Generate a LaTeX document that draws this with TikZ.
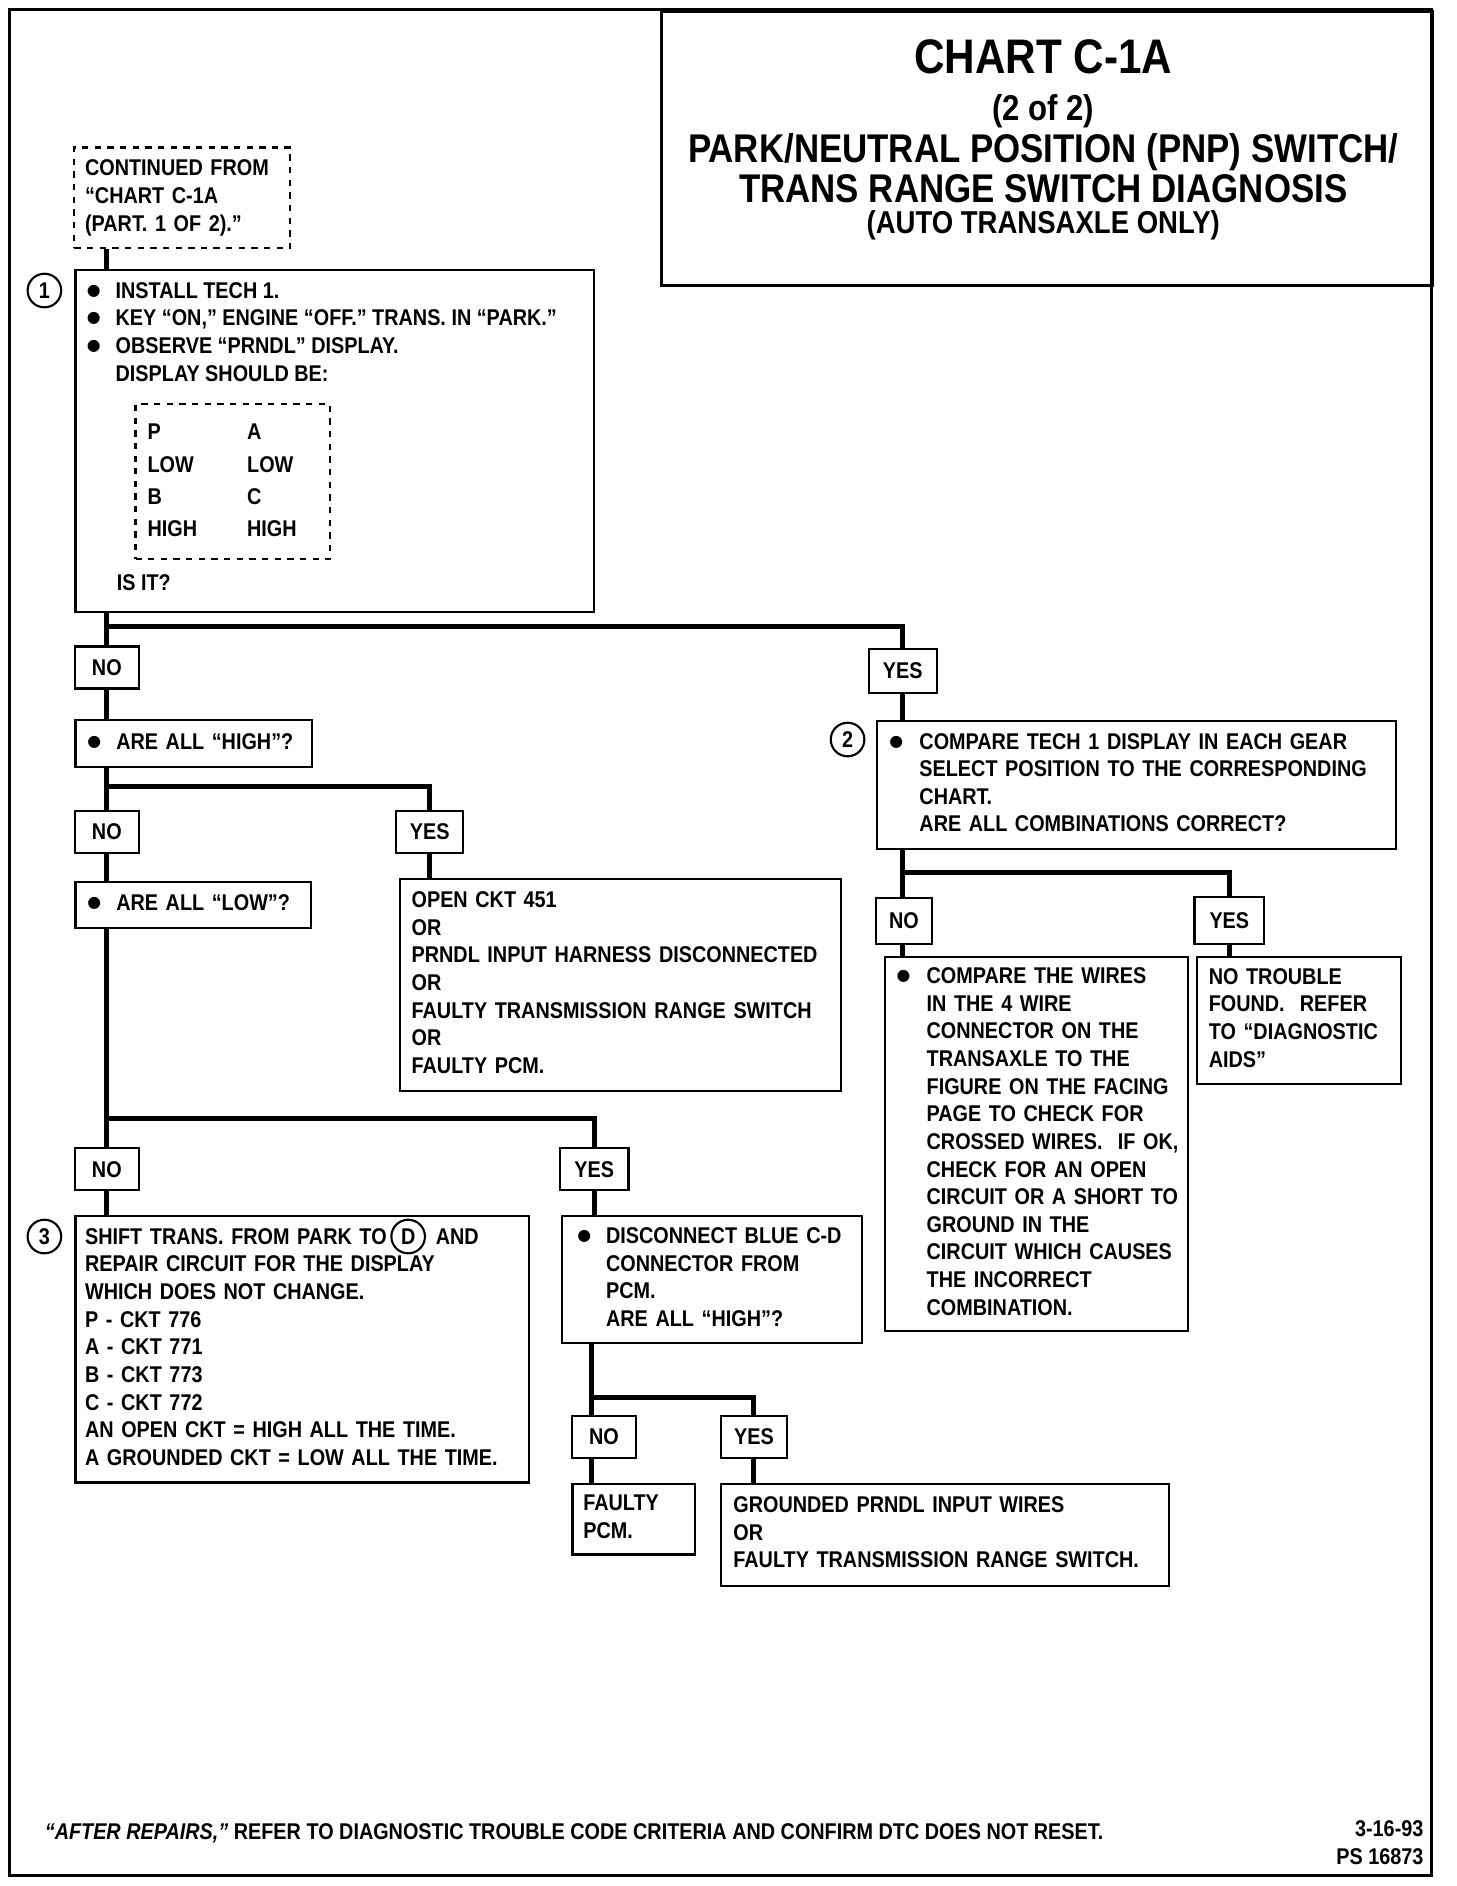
\documentclass[tikz,border=0pt]{standalone}
\usepackage{fontspec}
\setmainfont{Liberation Sans}[FakeStretch=0.87]
\newfontfamily\dotfont{DejaVu Sans}
\newcommand{\bodysize}{\fontsize{10.8}{13.1}\selectfont\bfseries}
\newcommand{\bl}{\raisebox{0.25ex}{\dotfont\fontsize{7.5}{9}\selectfont ●}}
\tikzset{
  frame/.style={line width=1.4pt},
  box/.style={draw, line width=1pt, anchor=north west, align=left, inner xsep=0.2cm, inner ysep=0pt, font=\bodysize},
  tag/.style={draw, line width=1pt, minimum width=1.06cm, minimum height=0.7cm, inner sep=0pt, font=\bodysize},
  num/.style={draw, circle, line width=1pt, minimum size=0.56cm, inner sep=0pt, font=\bodysize},
  txt/.style={anchor=north west, align=left, inner sep=0pt, font=\bodysize},
  wire/.style={line width=2.4pt},
}

\begin{document}
\begin{tikzpicture}[x=0.02cm,y=-0.02cm]
\useasboundingbox (0,0) rectangle (1213,1571);
\draw[frame] (8,8) rectangle (1192,1562);

% title block
\node[draw, frame, anchor=north west, minimum width=12.84cm, minimum height=4.58cm] (title) at (550,8) {};
\node[font=\fontsize{23}{27}\selectfont\bfseries] (t1) at (869,47) {CHART C-1A};
\node[font=\fontsize{17}{20}\selectfont\bfseries] (t2) at (869,93) {(2 of 2)};
\node[font=\fontsize{19}{22}\selectfont\bfseries, inner sep=0pt] (t3) at (869,127) {PARK/NEUTRAL POSITION (PNP) SWITCH/};
\node[font=\fontsize{19}{22}\selectfont\bfseries, inner sep=0pt] (t4) at (869,157) {TRANS RANGE SWITCH DIAGNOSIS};
\node[font=\fontsize{15}{18}\selectfont\bfseries, inner sep=0pt] (t5) at (869,188) {(AUTO TRANSAXLE ONLY)};

% step 1
\node[box, dashed, inner xsep=0.18cm, text width=3.24cm, minimum height=1.68cm] (cont) at (61,122)
  {\begin{tabular}{@{}l@{}}CONTINUED FROM\\“CHART C-1A\\(PART. 1 OF 2).”\end{tabular}};
\node[box, minimum width=8.64cm, minimum height=5.7cm] (b1) at (62,224) {};
\node[num] (c1) at (37,242) {1};
\node[txt] (b1a) at (72,232) {\begin{tabular}{@{}p{0.48cm}@{}l@{}}
  \bl & INSTALL TECH 1.\\
  \bl & KEY “ON,” ENGINE “OFF.” TRANS. IN “PARK.”\\
  \bl & OBSERVE “PRNDL” DISPLAY.\\
      & DISPLAY SHOULD BE:\end{tabular}};
\node[box, dashed, text width=2.84cm, minimum height=2.58cm] (tab) at (112,336)
  {\renewcommand{\arraystretch}{1.17}\begin{tabular}{@{}p{1.66cm}@{}l@{}}
  P & A\\ LOW & LOW\\ B & C\\ HIGH & HIGH\end{tabular}};
\node[txt, anchor=west] (isit) at (97,485) {IS IT?};

% first split
\coordinate (s1) at (89,522);
\node[tag] (no1) at (89,556) {NO};
\node[tag, minimum width=1.14cm, minimum height=0.74cm] (yes1) at (752,559) {YES};
\node[box, text width=3.54cm, minimum height=0.78cm] (q2) at (62,599)
  {\begin{tabular}{@{}p{0.48cm}@{}l@{}}\bl & ARE ALL “HIGH”?\end{tabular}};
\node[box, text width=8.24cm, minimum height=2.12cm] (b2) at (730,600) {\begin{tabular}{@{}p{0.5cm}@{}l@{}}
  \bl & COMPARE TECH 1 DISPLAY IN EACH GEAR\\
      & SELECT POSITION TO THE CORRESPONDING\\
      & CHART.\\
      & ARE ALL COMBINATIONS CORRECT?\end{tabular}};
\node[num] (c2) at (706,616) {2};

% all high ?
\coordinate (s2) at (89,655);
\node[tag] (no2) at (89,693) {NO};
\node[tag, minimum width=1.12cm] (yes2) at (358,693) {YES};
\node[box, text width=3.52cm, minimum height=0.76cm] (q3) at (62,734)
  {\begin{tabular}{@{}p{0.48cm}@{}l@{}}\bl & ARE ALL “LOW”?\end{tabular}};
\node[box, text width=6.96cm, minimum height=3.54cm] (r1) at (332,731) {\begin{tabular}{@{}l@{}}
  OPEN CKT 451\\ OR\\ PRNDL INPUT HARNESS DISCONNECTED\\ OR\\
  FAULTY TRANSMISSION RANGE SWITCH\\ OR\\ FAULTY PCM.\end{tabular}};

% combinations correct ?
\coordinate (s5) at (752,727);
\node[tag, minimum width=0.92cm, minimum height=0.76cm] (no5) at (753,767) {NO};
\node[tag, minimum width=1.16cm, minimum height=0.78cm] (yes5) at (1024,767) {YES};
\node[box, text width=4.66cm, minimum height=6.24cm] (r6) at (736,796) {\begin{tabular}{@{}p{0.5cm}@{}l@{}}
  \bl & COMPARE THE WIRES\\
      & IN THE 4 WIRE\\
      & CONNECTOR ON THE\\
      & TRANSAXLE TO THE\\
      & FIGURE ON THE FACING\\
      & PAGE TO CHECK FOR\\
      & CROSSED WIRES.\ \ IF OK,\\
      & CHECK FOR AN OPEN\\
      & CIRCUIT OR A SHORT TO\\
      & GROUND IN THE\\
      & CIRCUIT WHICH CAUSES\\
      & THE INCORRECT\\
      & COMBINATION.\end{tabular}};
\node[box, text width=3.0cm, minimum height=2.12cm] (r7) at (996,796) {\begin{tabular}{@{}l@{}}
  NO TROUBLE\\ FOUND.\ \ REFER\\ TO “DIAGNOSTIC\\ AIDS”\end{tabular}};

% all low ?
\coordinate (s3) at (89,932);
\node[tag] (no3) at (89,974) {NO};
\node[tag, minimum width=1.14cm] (yes3) at (495,974) {YES};
\node[box, inner xsep=0.16cm, text width=7.24cm, minimum height=4.44cm] (b3) at (62,1012) {\begin{tabular}{@{}l@{}}
  SHIFT TRANS. FROM PARK TO\hspace{0.82cm}AND\\
  REPAIR CIRCUIT FOR THE DISPLAY\\
  WHICH DOES NOT CHANGE.\\
  P - CKT 776\\ A - CKT 771\\ B - CKT 773\\ C - CKT 772\\
  AN OPEN CKT = HIGH ALL THE TIME.\\
  A GROUNDED CKT = LOW ALL THE TIME.\end{tabular}};
\node[num] (c3) at (37,1030) {3};
\node[num, fill=white] (dpos) at (340,1030) {D};
\node[box, inner xsep=0.26cm, text width=4.48cm, minimum height=2.12cm] (b4) at (467,1012) {\begin{tabular}{@{}p{0.48cm}@{}l@{}}
  \bl & DISCONNECT BLUE C-D\\
      & CONNECTOR FROM\\
      & PCM.\\
      & ARE ALL “HIGH”?\end{tabular}};

% blue connector off
\coordinate (s4) at (493,1164);
\node[tag] (no4) at (503,1197) {NO};
\node[tag, minimum width=1.1cm] (yes4) at (628,1197) {YES};
\node[box, inner xsep=0.18cm, text width=1.68cm, minimum height=1.18cm] (r4) at (476,1235) {\begin{tabular}{@{}l@{}}
  FAULTY\\ PCM.\end{tabular}};
\node[box, text width=7.06cm, minimum height=1.7cm] (r5) at (600,1235) {\begin{tabular}{@{}l@{}}
  GROUNDED PRNDL INPUT WIRES\\ OR\\ FAULTY TRANSMISSION RANGE SWITCH.\end{tabular}};

% connectors
\draw[wire] (s1 |- cont.south) -- (s1 |- b1.north);
\draw[wire] (s1 |- b1.south) -- (no1.north);
\draw[wire] (s1) -| (yes1.north);
\draw[wire] (no1.south) -- (no1.south |- q2.north);
\draw[wire] (yes1.south) -- (yes1.south |- b2.north);
\draw[wire] (s2 |- q2.south) -- (no2.north);
\draw[wire] (s2) -| (yes2.north);
\draw[wire] (no2.south) -- (no2.south |- q3.north);
\draw[wire] (yes2.south) -- (yes2.south |- r1.north);
\draw[wire] (s5 |- b2.south) -- (s5 |- no5.north);
\draw[wire] (s5) -| (yes5.north);
\draw[wire] (s5 |- no5.south) -- (s5 |- r6.north);
\draw[wire] (yes5.south) -- (yes5.south |- r7.north);
\draw[wire] (s3 |- q3.south) -- (no3.north);
\draw[wire] (s3) -| (yes3.north);
\draw[wire] (no3.south) -- (no3.south |- b3.north);
\draw[wire] (yes3.south) -- (yes3.south |- b4.north);
\draw[wire] (s4 |- b4.south) -- (s4 |- no4.north);
\draw[wire] (s4) -| (yes4.north);
\draw[wire] (s4 |- no4.south) -- (s4 |- r4.north);
\draw[wire] (yes4.south) -- (yes4.south |- r5.north);

% footer
\node[txt, anchor=base west] (foot) at (37,1532)
  {\textit{“AFTER REPAIRS,”} REFER TO DIAGNOSTIC TROUBLE CODE CRITERIA AND CONFIRM DTC DOES NOT RESET.};
\node[txt, anchor=east, align=right] (date) at (1186,1535) {3-16-93\\PS 16873};
\end{tikzpicture}
\end{document}
